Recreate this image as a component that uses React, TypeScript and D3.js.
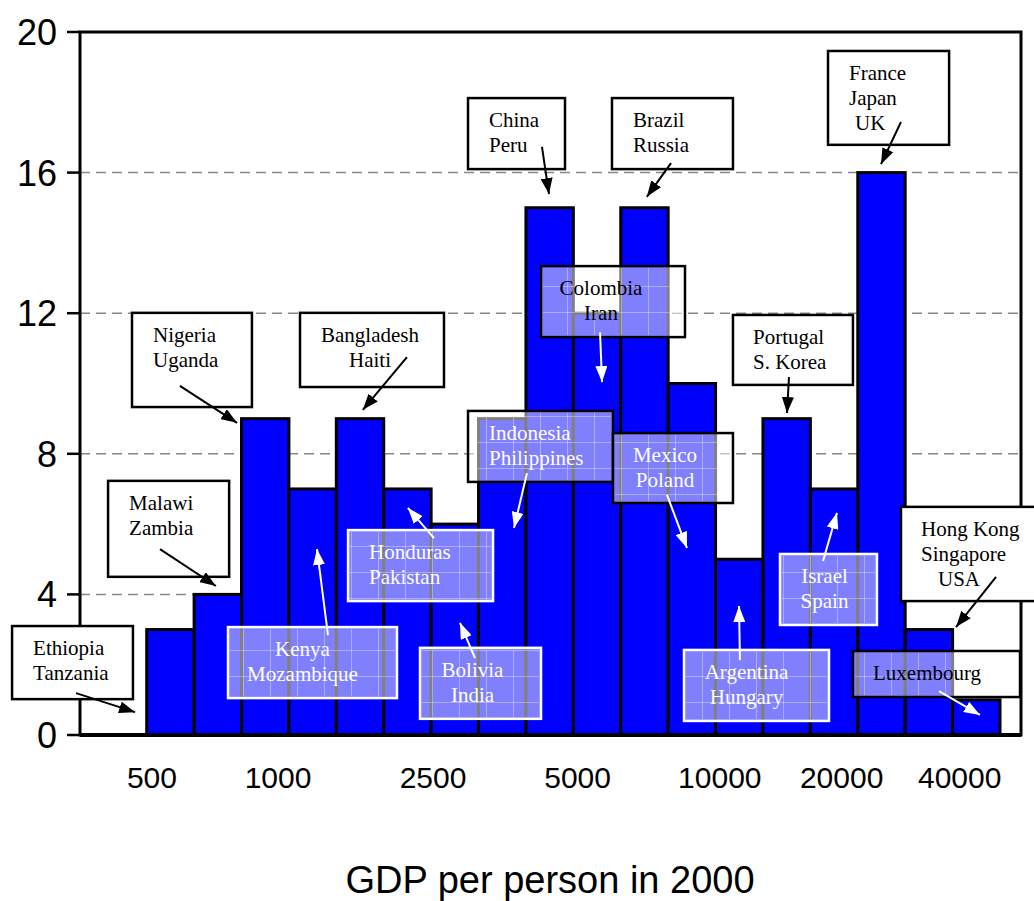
import React from 'react';
import * as d3 from 'd3';

// number of countries in each GDP-per-person bin (log-spaced bins, poorest first)
const binCounts = [3, 4, 9, 7, 9, 7, 6, 9, 15, 12, 15, 10, 5, 9, 7, 16, 3, 1];
const tickLabels = ['500', '1000', '2500', '5000', '10000', '20000', '40000'];
// label positions, in bin widths from the left edge of the first bar
const tickBins = [0.11, 2.77, 6.04, 9.09, 12.09, 14.66, 17.15];
const yTicks = [0, 4, 8, 12, 16, 20];
const xTitle = 'GDP per person in 2000';

const noteLines = [
  ['Ethiopia', 'Tanzania'],
  ['Malawi', 'Zambia'],
  ['Nigeria', 'Uganda'],
  ['Bangladesh', 'Haiti'],
  ['China', 'Peru'],
  ['Brazil', 'Russia'],
  ['France', 'Japan', 'UK'],
  ['Colombia', 'Iran'],
  ['Portugal', 'S. Korea'],
  ['Indonesia', 'Philippines'],
  ['Mexico', 'Poland'],
  ['Honduras', 'Pakistan'],
  ['Kenya', 'Mozambique'],
  ['Bolivia', 'India'],
  ['Argentina', 'Hungary'],
  ['Israel', 'Spain'],
  ['Hong Kong', 'Singapore', 'USA'],
  ['Luxembourg'],
];

type Note = {
  box: [number, number, number, number]; // x0, x1 (bins), top, bottom (counts)
  arrow: [number, number, number, number]; // from x, y -> to x, y
  glass: boolean;
  stroke: string;
  ink: string;
  arrowInk: string;
  align: 'start' | 'middle';
  dx: number;
  indent?: number[];
};

// callout layout, in data units so it follows the scales
const notes: Note[] = [
  {box: [-2.84, -0.29, 3.10, 1.02], arrow: [-1.49, 1.19, -0.245, 0.65], glass: false, stroke: '#000', ink: '#000', arrowInk: '#000', align: 'start', dx: 21},
  {box: [-0.815, 1.739, 7.23, 4.5], arrow: [0.28, 5.29, 1.46, 4.24], glass: false, stroke: '#000', ink: '#000', arrowInk: '#000', align: 'start', dx: 21},
  {box: [-0.31, 2.22, 12.01, 9.33], arrow: [0.7, 9.93, 1.905, 8.88], glass: false, stroke: '#000', ink: '#000', arrowInk: '#000', align: 'start', dx: 21},
  {box: [3.234, 6.271, 12.01, 9.9], arrow: [5.49, 10.75, 4.56, 9.25], glass: false, stroke: '#000', ink: '#000', arrowInk: '#000', align: 'middle', dx: -2},
  {box: [6.778, 8.824, 18.12, 16.1], arrow: [8.338, 16.73, 8.486, 15.39], glass: false, stroke: '#000', ink: '#000', arrowInk: '#000', align: 'start', dx: 21},
  {box: [9.815, 12.367, 18.12, 16.1], arrow: [11.06, 16.27, 10.55, 15.31], glass: false, stroke: '#000', ink: '#000', arrowInk: '#000', align: 'start', dx: 21},
  {box: [14.372, 16.926, 19.46, 16.79], arrow: [15.911, 17.44, 15.49, 16.24], glass: false, stroke: '#000', ink: '#000', arrowInk: '#000', align: 'start', dx: 21, indent: [0, 0, 6]},
  {box: [8.318, 11.355, 13.34, 11.32], arrow: [9.563, 11.46, 9.605, 10.04], glass: true, stroke: '#000', ink: '#000', arrowInk: '#fff', align: 'middle', dx: -12},
  {box: [12.367, 14.898, 11.95, 9.96], arrow: [13.549, 10.18, 13.507, 9.16], glass: false, stroke: '#000', ink: '#000', arrowInk: '#000', align: 'start', dx: 20},
  {box: [6.778, 9.836, 9.22, 7.2], arrow: [8.022, 7.45, 7.748, 5.89], glass: true, stroke: '#000', ink: '#fff', arrowInk: '#fff', align: 'start', dx: 21},
  {box: [9.836, 12.367, 8.59, 6.6], arrow: [10.975, 6.83, 11.397, 5.32], glass: true, stroke: '#000', ink: '#fff', arrowInk: '#fff', align: 'middle', dx: -8},
  {box: [4.247, 7.306, 5.83, 3.81], arrow: [6.06, 5.6, 5.51, 6.46], glass: true, stroke: '#fff', ink: '#fff', arrowInk: '#fff', align: 'start', dx: 21},
  {box: [1.715, 5.28, 3.07, 1.05], arrow: [3.824, 2.84, 3.592, 5.29], glass: true, stroke: '#fff', ink: '#fff', arrowInk: '#fff', align: 'middle', dx: -10},
  {box: [5.765, 8.318, 2.48, 0.46], arrow: [6.926, 2.19, 6.609, 3.19], glass: true, stroke: '#fff', ink: '#fff', arrowInk: '#fff', align: 'middle', dx: -8},
  {box: [11.334, 14.393, 2.42, 0.4], arrow: [12.515, 2.13, 12.494, 3.67], glass: true, stroke: '#fff', ink: '#fff', arrowInk: '#fff', align: 'middle', dx: -10},
  {box: [13.359, 15.405, 5.15, 3.13], arrow: [14.267, 4.95, 14.561, 6.32], glass: true, stroke: '#fff', ink: '#fff', arrowInk: '#fff', align: 'middle', dx: -4},
  {box: [15.911, 18.844, 6.49, 3.81], arrow: [17.917, 4.5, 17.073, 3.07], glass: false, stroke: '#000', ink: '#000', arrowInk: '#000', align: 'start', dx: 20, indent: [0, 0, 17]},
  {box: [14.899, 18.422, 2.39, 1.08], arrow: [16.713, 1.25, 17.577, 0.57], glass: true, stroke: '#000', ink: '#000', arrowInk: '#fff', align: 'start', dx: 20},
];

const W = 1034;
const H = 901;
const frame = {left: 80, right: 1021, top: 32, bottom: 735};
const sans = "'Liberation Sans', Arial, sans-serif";
const serif = "'Liberation Serif', 'Times New Roman', serif";

export default function App() {
  const x = d3.scaleLinear().domain([0, binCounts.length]).range([146.7, 1000]);
  const y = d3.scaleLinear().domain([0, 20]).range([frame.bottom, frame.top]);

  return (
    <svg width={W} height={H} style={{position: 'absolute', left: 0, top: 0, background: '#fff'}}>
      <defs>
        <marker id="headBlack" viewBox="0 0 16 12" refX={16} refY={6} markerWidth={16} markerHeight={12}
                markerUnits="userSpaceOnUse" orient="auto">
          <path d="M0,0 L16,6 L0,12 Z" fill="#000"/>
        </marker>
        <marker id="headWhite" viewBox="0 0 16 12" refX={16} refY={6} markerWidth={16} markerHeight={12}
                markerUnits="userSpaceOnUse" orient="auto">
          <path d="M0,0 L16,6 L0,12 Z" fill="#fff"/>
        </marker>
        <pattern id="glassGrid" width={27} height={26} patternUnits="userSpaceOnUse">
          <path d="M0,0.5 H27 M0.5,0 V26" stroke="#fff" strokeOpacity={0.35} strokeWidth={1}/>
        </pattern>
      </defs>

      {/* dashed gridlines */}
      {yTicks.filter(t => t > 0 && t < 20).map(t => (
        <line key={t} x1={frame.left} x2={frame.right} y1={y(t)} y2={y(t)}
              stroke="#888" strokeWidth={1.5} strokeDasharray="10,6"/>
      ))}

      {/* bars */}
      {binCounts.map((c, i) => (
        <rect key={i} x={x(i)} y={y(c)} width={x(i + 1) - x(i)} height={y(0) - y(c)}
              fill="#0000ff" stroke="#000" strokeWidth={3}/>
      ))}

      {/* frame */}
      <rect x={frame.left} y={frame.top} width={frame.right - frame.left} height={frame.bottom - frame.top}
            fill="none" stroke="#000" strokeWidth={3}/>
      <line x1={frame.left} x2={frame.right} y1={frame.bottom} y2={frame.bottom} stroke="#000" strokeWidth={4}/>

      {/* y axis */}
      {yTicks.map(t => (
        <g key={t}>
          <line x1={frame.left - 13} x2={frame.left} y1={y(t)} y2={y(t)} stroke="#000" strokeWidth={2.5}/>
          <text x={57} y={y(t)} dy="0.36em" textAnchor="end" fontFamily={sans} fontSize={36}>{t}</text>
        </g>
      ))}

      {/* x labels */}
      {tickLabels.map((lab, i) => (
        <text key={lab} x={x(tickBins[i])} y={788} textAnchor="middle" fontFamily={sans} fontSize={30}>{lab}</text>
      ))}
      <text x={550} y={893} textAnchor="middle" fontFamily={sans} fontSize={38}>{xTitle}</text>

      {/* callouts */}
      {notes.map((n, k) => {
        const [bx0, bx1, by0, by1] = n.box;
        const left = x(bx0), right = x(bx1), top = y(by0), bottom = y(by1);
        const tx = n.align === 'start' ? left + n.dx : (left + right) / 2 + n.dx;
        const [ax0, ay0, ax1, ay1] = n.arrow;
        return (
          <g key={k}>
            <rect x={left} y={top} width={right - left} height={bottom - top}
                  fill="#fff" fillOpacity={n.glass ? 0.5 : 1} stroke={n.stroke} strokeWidth={2.5}/>
            {n.glass && (
              <rect x={left + 2} y={top + 2} width={right - left - 4} height={bottom - top - 4} fill="url(#glassGrid)"/>
            )}
            {noteLines[k].map((line, j) => (
              <text key={j} x={tx + (n.indent ? n.indent[j] : 0)} y={top + 29 + j * 25}
                    textAnchor={n.align} fontFamily={serif} fontSize={21} fill={n.ink}>{line}</text>
            ))}
            <line x1={x(ax0)} y1={y(ay0)} x2={x(ax1)} y2={y(ay1)} stroke={n.arrowInk} strokeWidth={2}
                  markerEnd={n.arrowInk === '#fff' ? 'url(#headWhite)' : 'url(#headBlack)'}/>
          </g>
        );
      })}
    </svg>
  );
}
